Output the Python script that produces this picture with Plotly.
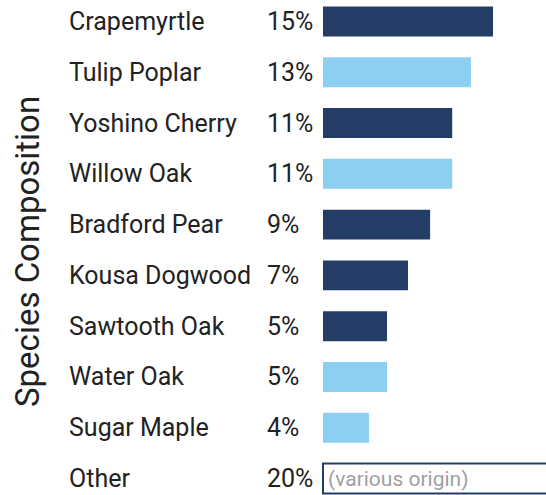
import plotly.graph_objects as go

species = ["Crapemyrtle", "Tulip Poplar", "Yoshino Cherry", "Willow Oak", "Bradford Pear",
           "Kousa Dogwood", "Sawtooth Oak", "Water Oak", "Sugar Maple", "Other"]
pct_labels = ["15%", "13%", "11%", "11%", "9%", "7%", "5%", "5%", "4%", "20%"]
values = [15.0, 13.05, 11.4, 11.4, 9.45, 7.5, 5.65, 5.65, 4.05, 20.0]
origin = ["non-native", "native", "non-native", "native", "non-native",
          "non-native", "non-native", "native", "native", "various"]

NAVY = "#243d66"
LIGHT = "#8ccff1"
FONT = "Roboto"
color_map = {"non-native": NAVY, "native": LIGHT, "various": "white"}
colors = [color_map[o] for o in origin]
line_w = [2 if o == "various" else 0 for o in origin]

W, H = 546, 495
bar_start_px = 323
px_per_unit = 170 / 15.0

fig = go.Figure()
fig.add_trace(go.Bar(
    y=species, x=values, orientation="h",
    marker=dict(color=colors, line=dict(color=NAVY, width=line_w)),
    width=0.59, hoverinfo="skip", showlegend=False,
))

annotations = []
for s, p in zip(species, pct_labels):
    annotations.append(dict(x=67 / W, xref="paper", y=s, yref="y", text=s,
                            showarrow=False, xanchor="left", yanchor="middle",
                            font=dict(family=FONT, size=25, color="#222222")))
    annotations.append(dict(x=265 / W, xref="paper", y=s, yref="y", text=p,
                            showarrow=False, xanchor="left", yanchor="middle",
                            font=dict(family=FONT, size=25, color="#222222")))
annotations.append(dict(x=0.25, xref="x", y="Other", yref="y", text="(various origin)",
                        showarrow=False, xanchor="left", yanchor="middle",
                        font=dict(family=FONT, size=21, color="#a0a0a0")))
annotations.append(dict(x=28 / W, xref="paper", y=1 - 252 / H, yref="paper",
                        text="Species Composition", textangle=-90, showarrow=False,
                        xanchor="center", yanchor="middle",
                        font=dict(family=FONT, size=33, color="#222222")))

n = len(species)
row_px = (478.5 - 21.5) / (n - 1)
y_top = -21.5 / row_px
y_bot = (n - 1) + (H - 478.5) / row_px

fig.update_layout(
    width=W, height=H,
    margin=dict(l=0, r=0, t=0, b=0),
    paper_bgcolor="white", plot_bgcolor="white",
    xaxis=dict(range=[-bar_start_px / px_per_unit, (W - bar_start_px) / px_per_unit],
               visible=False, fixedrange=True),
    yaxis=dict(range=[y_bot, y_top], visible=False, fixedrange=True,
               categoryorder="array", categoryarray=species),
    annotations=annotations,
)

fig.write_html("out.html", config={"displayModeBar": False},
               post_script="document.body.style.margin='0';document.body.style.overflow='hidden';")
